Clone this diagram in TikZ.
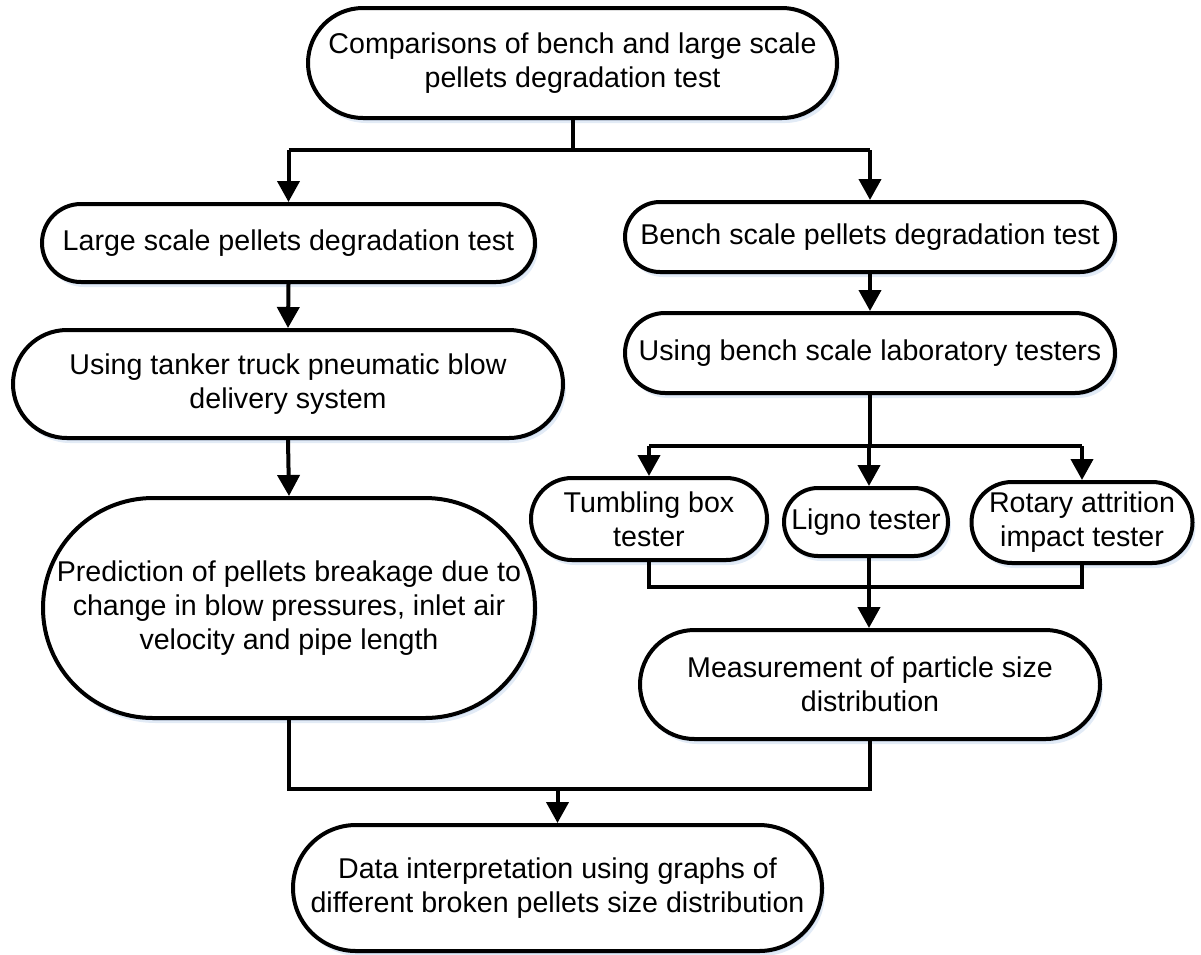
\documentclass[tikz,border=0pt]{standalone}
\usepackage{fontspec}
\setmainfont{Liberation Sans}
\usetikzlibrary{arrows.meta,shadows}
\definecolor{shadowc}{RGB}{190,210,236}
\tikzset{
  flow/.style={draw=black, line width=4pt, fill=white, align=center,
    inner sep=0pt, font=\fontsize{28.6}{34}\selectfont,
    drop shadow={shadow xshift=3pt, shadow yshift=-5pt, fill=shadowc, opacity=0.45},
    drop shadow={shadow xshift=1.5pt, shadow yshift=-2.5pt, fill=shadowc, opacity=0.6}},
  stadium/.style 2 args={minimum width=#1pt, minimum height=#2pt, rounded corners=#2/2*1pt},
  link/.style={line width=4pt},
  arrowlink/.style={line width=4pt, -{Triangle[width=22pt,length=21pt]}},
}
\begin{document}
\begin{tikzpicture}[x=1pt, y=-1pt]
\useasboundingbox (0,0) rectangle (1201,954);

% boxes
\node[flow, stadium={529}{110}] (top) at (572.5,63)
  {Comparisons of bench and large scale\\pellets degradation test};
\node[flow, stadium={493}{78}] (large) at (288.5,243)
  {Large scale pellets degradation test};
\node[flow, stadium={490}{70}] (bench) at (870,237)
  {Bench scale pellets degradation test};
\node[flow, stadium={550}{108}] (tanker) at (288,384)
  {Using tanker truck pneumatic blow\\delivery system};
\node[flow, stadium={492}{220}] (pred) at (289,608)
  {Prediction of pellets breakage due to\\change in blow pressures, inlet air\\velocity and pipe length};
\node[flow, stadium={490}{80}] (using) at (870,353)
  {Using bench scale laboratory testers};
\node[flow, stadium={236}{82}] (tumb) at (649,519)
  {Tumbling box\\tester};
\node[flow, stadium={164}{68}] (ligno) at (866,522)
  {Ligno tester};
\node[flow, stadium={221}{81}] (rotary) at (1082,522.5)
  {Rotary attrition\\impact tester};
\node[flow, stadium={460}{109}] (meas) at (870,684.5)
  {Measurement of particle size\\distribution};
\node[flow, stadium={529}{126}] (data) at (557.5,888)
  {Data interpretation using graphs of\\different broken pellets size distribution};

% branching levels
\coordinate (b1) at (0,150);
\coordinate (b2) at (0,446);
\coordinate (m1) at (0,587);
\coordinate (m2) at (0,789);
\coordinate (c1) at (869,0);

% top split
\draw[link] (top.south) -- (top.south |- b1);
\draw[link] (large.north |- b1) -- (bench.north |- b1);
\draw[arrowlink] (large.north |- b1) -- (large.north);
\draw[arrowlink] (bench.north |- b1) -- (bench.north);

% left column
\draw[arrowlink] (large.south) -- (tanker.north);
\draw[arrowlink] (tanker.south) -- (pred.north);

% right column
\draw[arrowlink] (bench.south) -- (using.north);
\draw[link] (using.south) -- (using.south |- b2);
\draw[link] (tumb.north |- b2) -- (rotary.north |- b2);
\draw[arrowlink] (tumb.north |- b2) -- (tumb.north);
\draw[arrowlink] (c1 |- b2) -- (c1 |- ligno.north);
\draw[arrowlink] (rotary.north |- b2) -- (rotary.north);

% testers merge
\draw[link] (tumb.south) -- (tumb.south |- m1) -- (rotary.south |- m1) -- (rotary.south);
\draw[arrowlink] (c1 |- ligno.south) -- (c1 |- meas.north);

% final merge
\draw[link] (pred.south) -- (pred.south |- m2) -- (meas.south |- m2) -- (meas.south);
\draw[arrowlink] (data.north |- m2) -- (data.north);
\end{tikzpicture}
\end{document}
